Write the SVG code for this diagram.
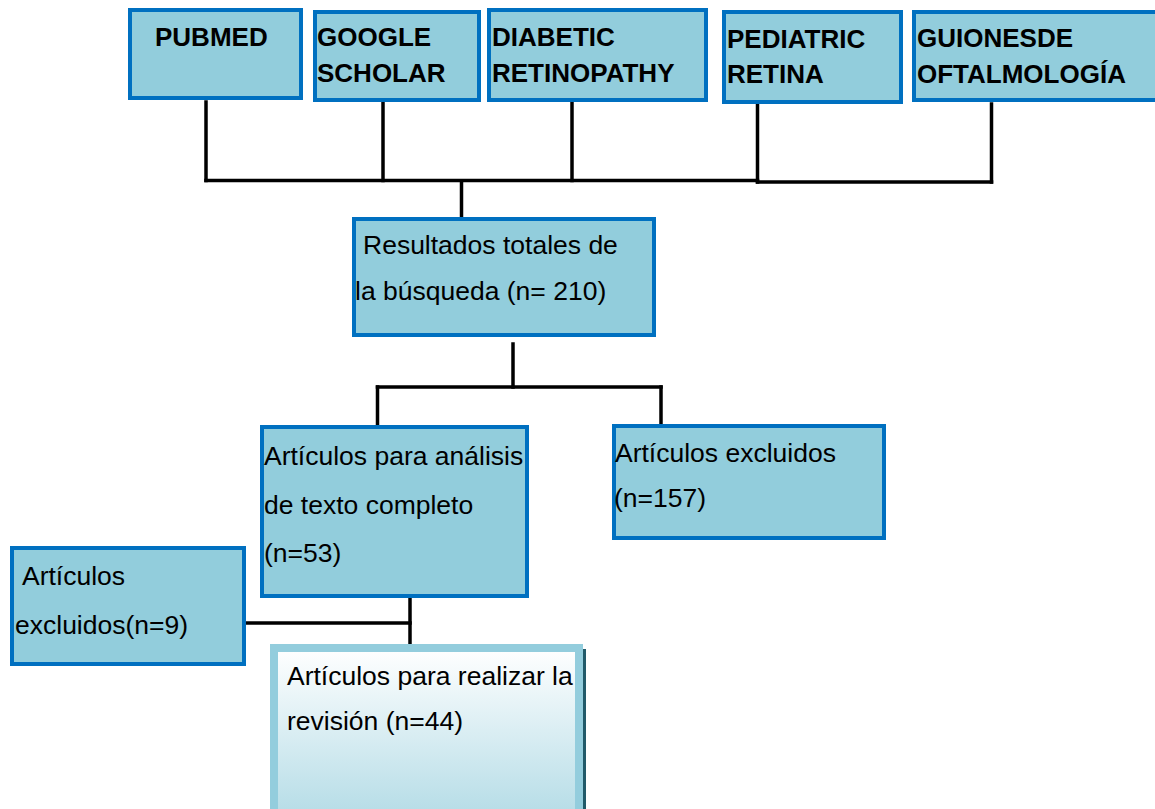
<svg xmlns="http://www.w3.org/2000/svg" width="1155" height="809" viewBox="0 0 1155 809">
<defs>
<linearGradient id="revGrad" x1="0" y1="0" x2="0" y2="1">
<stop offset="0" stop-color="#FFFFFF"/>
<stop offset="1" stop-color="#B0DAE5"/>
</linearGradient>
<style>
.box{fill:#92CDDC;stroke:#0070C0;stroke-width:4}
.hd{font-family:"Liberation Sans",Arial,sans-serif;font-size:26px;font-weight:bold;fill:#000}
.tx{font-family:"Liberation Sans",Arial,sans-serif;font-size:26.5px;fill:#000}
.ln{stroke:#000;stroke-width:3.5;fill:none;stroke-linecap:square}
</style>
</defs>
<rect width="1155" height="809" fill="#FFFFFF"/>
<g id="connectors">
<line class="ln" x1="206" y1="102" x2="206" y2="180.5"/>
<line class="ln" x1="383" y1="102" x2="383" y2="180.5"/>
<line class="ln" x1="572" y1="102" x2="572" y2="180.5"/>
<line class="ln" x1="757.5" y1="103" x2="757.5" y2="182"/>
<line class="ln" x1="991.5" y1="104" x2="991.5" y2="182"/>
<line class="ln" x1="206" y1="180.5" x2="757.5" y2="180.5"/>
<line class="ln" x1="757.5" y1="182" x2="991.5" y2="182"/>
<line class="ln" x1="461.5" y1="181" x2="461.5" y2="216"/>
<line class="ln" x1="513" y1="344" x2="513" y2="387"/>
<line class="ln" x1="377.5" y1="387" x2="661" y2="387"/>
<line class="ln" x1="377.5" y1="387" x2="377.5" y2="424"/>
<line class="ln" x1="661" y1="387" x2="661" y2="424"/>
<line class="ln" x1="410" y1="599" x2="410" y2="643"/>
<line class="ln" x1="247" y1="623" x2="410" y2="623"/>
</g>
<g id="node-pubmed">
<rect class="box" x="130" y="10" width="171" height="88"/>
<text class="hd" x="155" y="46">PUBMED</text>
</g>
<g id="node-google">
<rect class="box" x="315" y="12" width="164" height="88"/>
<text class="hd" x="317" y="46">GOOGLE</text>
<text class="hd" x="317" y="82">SCHOLAR</text>
</g>
<g id="node-diabetic">
<rect class="box" x="489" y="10" width="217" height="90"/>
<text class="hd" x="492" y="46">DIABETIC</text>
<text class="hd" x="492" y="82">RETINOPATHY</text>
</g>
<g id="node-pediatric">
<rect class="box" x="724" y="12" width="177" height="90"/>
<text class="hd" x="727" y="48">PEDIATRIC</text>
<text class="hd" x="727" y="83">RETINA</text>
</g>
<g id="node-guiones">
<rect class="box" x="914" y="12" width="250" height="88"/>
<text class="hd" x="917" y="47">GUIONESDE</text>
<text class="hd" x="917" y="83">OFTALMOLOGÍA</text>
</g>
<g id="node-resultados">
<rect class="box" x="354" y="219" width="300" height="116"/>
<text class="tx" x="363" y="254">Resultados totales de</text>
<text class="tx" x="355" y="300">la búsqueda (n= 210)</text>
</g>
<g id="node-analisis">
<rect class="box" x="262" y="427" width="265" height="169"/>
<text class="tx" x="264" y="465">Artículos para análisis</text>
<text class="tx" x="264" y="514">de texto completo</text>
<text class="tx" x="264" y="562">(n=53)</text>
</g>
<g id="node-excluidos157">
<rect class="box" x="614" y="426" width="270" height="112"/>
<text class="tx" x="615" y="462">Artículos excluidos</text>
<text class="tx" x="614" y="507">(n=157)</text>
</g>
<g id="node-excluidos9">
<rect class="box" x="12" y="548" width="232" height="116"/>
<text class="tx" x="22" y="585">Artículos</text>
<text class="tx" x="15" y="634">excluidos(n=9)</text>
</g>
<g id="node-revision">
<rect x="583" y="649" width="3" height="170" fill="#215A69"/>
<rect x="274" y="648" width="305" height="180" fill="url(#revGrad)" stroke="#93CDDD" stroke-width="8"/>
<text class="tx" x="287" y="685">Artículos para realizar la</text>
<text class="tx" x="287" y="730">revisión (n=44)</text>
</g>
</svg>
